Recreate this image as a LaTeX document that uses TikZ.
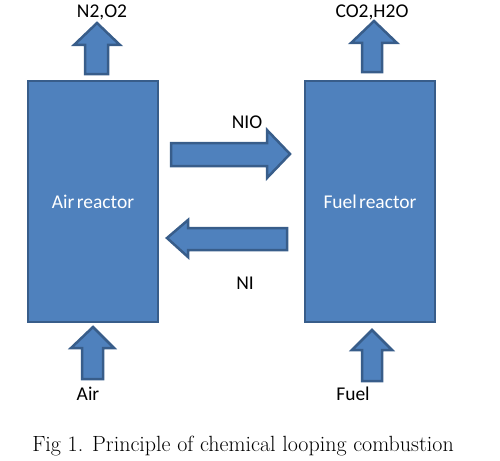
\documentclass[tikz,border=0pt]{standalone}
\usepackage{fontspec}
\setmainfont{Carlito}
\newfontfamily\capfont{Latin Modern Roman}
\definecolor{fillblue}{HTML}{4F81BD}
\definecolor{edgeblue}{HTML}{385D8A}
\begin{document}
\begin{tikzpicture}[x=1pt,y=-1pt,
  reactor/.style={draw=edgeblue,fill=fillblue,line width=2.5pt,minimum width=130pt,minimum height=241pt,inner sep=0pt,text=white,font=\fontsize{19.5}{22}\selectfont},
  barrow/.style={draw=edgeblue,fill=fillblue,line width=2.5pt,line join=miter},
  lbl/.style={font=\fontsize{19.5}{22}\selectfont,inner sep=0pt}]
\useasboundingbox (0,0) rectangle (500,460);
\node[reactor] (air) at (93,201.5) {\spaceskip=0.12em Air reactor};
\node[reactor] (fuel) at (370,201.5) {\spaceskip=0.12em Fuel reactor};
% top arrows
\draw[barrow] (85,74) -- (85,45) -- (74,45) -- (97,23) -- (120,45) -- (108,45) -- (108,74) -- cycle;
\draw[barrow] (362,72) -- (362,43) -- (351,43) -- (374,21) -- (397,43) -- (382,43) -- (382,72) -- cycle;
% middle arrows
\draw[barrow] (171,143) -- (267,143) -- (267,130) -- (290,154) -- (267,178) -- (267,166) -- (171,166) -- cycle;
\draw[barrow] (287,228) -- (188,228) -- (188,220) -- (167,238) -- (188,257) -- (188,250) -- (287,250) -- cycle;
% bottom arrows
\draw[barrow] (82,379) -- (82,348) -- (71,348) -- (93,327) -- (114,348) -- (103,348) -- (103,379) -- cycle;
\draw[barrow] (362,381) -- (362,350) -- (352,350) -- (372,330) -- (392,350) -- (382,350) -- (382,381) -- cycle;
% labels
\node[lbl] (n2o2) at (102,12) {N2,O2};
\node[lbl] (co2h2o) at (372,12) {CO2,H2O};
\node[lbl] (nio) at (247,122) {NIO};
\node[lbl] (ni) at (245,283) {NI};
\node[lbl] (airin) at (88,394) {Air};
\node[lbl] (fuelin) at (353,394) {Fuel};
\node[font=\capfont\fontsize{22}{25}\selectfont,inner sep=0pt] (cap) at (243,446) {Fig 1. Principle of chemical looping combustion};
\end{tikzpicture}
\end{document}
